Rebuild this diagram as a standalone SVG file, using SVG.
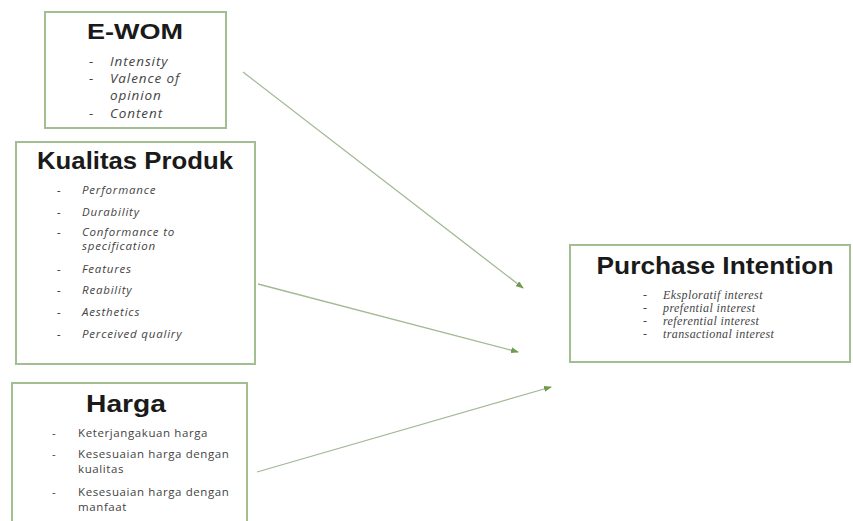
<svg xmlns="http://www.w3.org/2000/svg" width="853" height="521" viewBox="0 0 853 521">
<style>
.box{fill:#ffffff;stroke:#a3bf92;stroke-width:2}
.title{font-family:"Liberation Sans",Arial,sans-serif;font-weight:bold;fill:#1a1a1a;text-anchor:middle}
.item{font-family:"Open Sans","Liberation Sans",sans-serif;font-style:italic;fill:#444;font-size:11.5px;letter-spacing:0.8px}
.itemw{font-family:"Open Sans","Liberation Sans",sans-serif;font-style:italic;fill:#444;font-size:13.5px;letter-spacing:0.9px}
.itemn{font-family:"Open Sans","Liberation Sans",sans-serif;fill:#444;font-size:11.5px;letter-spacing:0.6px}
.items{font-family:"Liberation Serif","Times New Roman",serif;font-style:italic;fill:#444;font-size:12px;letter-spacing:0.4px}
.conn{stroke:#a2b994;stroke-width:1.3;fill:none;marker-end:url(#ah)}
</style>
<defs>
<marker id="ah" markerWidth="8" markerHeight="6" refX="7" refY="3" orient="auto" markerUnits="userSpaceOnUse">
<path d="M0,0 L8,3 L0,6 Z" fill="#6f9a4f"/>
</marker>
</defs>
<rect width="853" height="521" fill="#ffffff"/>
<g id="ewom">
<rect class="box" x="45" y="12" width="181" height="116"/>
<text class="title" x="135" y="39" font-size="22" textLength="96" lengthAdjust="spacingAndGlyphs">E-WOM</text>
<text class="itemw" x="89" y="66">-</text>
<text class="itemw" x="110" y="66">Intensity</text>
<text class="itemw" x="89" y="83">-</text>
<text class="itemw" x="110" y="83">Valence of</text>
<text class="itemw" x="110" y="100">opinion</text>
<text class="itemw" x="89" y="118">-</text>
<text class="itemw" x="110" y="118">Content</text>
</g>
<g id="kualitas">
<rect class="box" x="16" y="142" width="239" height="222"/>
<text class="title" x="135" y="169" font-size="24" textLength="196" lengthAdjust="spacingAndGlyphs">Kualitas Produk</text>
<text class="item" x="57" y="194">-</text><text class="item" x="82" y="194">Performance</text>
<text class="item" x="57" y="216">-</text><text class="item" x="82" y="216">Durability</text>
<text class="item" x="57" y="236">-</text><text class="item" x="82" y="236">Conformance to</text>
<text class="item" x="82" y="250">specification</text>
<text class="item" x="57" y="273">-</text><text class="item" x="82" y="273">Features</text>
<text class="item" x="57" y="294">-</text><text class="item" x="82" y="294">Reability</text>
<text class="item" x="57" y="316">-</text><text class="item" x="82" y="316">Aesthetics</text>
<text class="item" x="57" y="338">-</text><text class="item" x="82" y="338">Perceived qualiry</text>
</g>
<g id="harga">
<rect class="box" x="12" y="383" width="235" height="145"/>
<text class="title" x="126" y="412" font-size="23" textLength="80" lengthAdjust="spacingAndGlyphs">Harga</text>
<text class="itemn" x="52" y="437">-</text><text class="itemn" x="78" y="437">Keterjangakuan harga</text>
<text class="itemn" x="52" y="458">-</text><text class="itemn" x="78" y="458">Kesesuaian harga dengan</text>
<text class="itemn" x="78" y="473">kualitas</text>
<text class="itemn" x="52" y="496">-</text><text class="itemn" x="78" y="496">Kesesuaian harga dengan</text>
<text class="itemn" x="78" y="511">manfaat</text>
</g>
<g id="purchase">
<rect class="box" x="570" y="245" width="280" height="117"/>
<text class="title" x="715" y="274" font-size="24" textLength="237" lengthAdjust="spacingAndGlyphs">Purchase Intention</text>
<text class="items" x="643" y="299">-</text><text class="items" x="663" y="299">Eksploratif interest</text>
<text class="items" x="643" y="312">-</text><text class="items" x="663" y="312">prefential interest</text>
<text class="items" x="643" y="325">-</text><text class="items" x="663" y="325">referential interest</text>
<text class="items" x="643" y="338">-</text><text class="items" x="663" y="338">transactional interest</text>
</g>
<g id="connectors">
<line class="conn" x1="243" y1="72" x2="523" y2="288"/>
<line class="conn" x1="258" y1="284" x2="518" y2="352"/>
<line class="conn" x1="257" y1="472" x2="551" y2="387"/>
</g>
</svg>
